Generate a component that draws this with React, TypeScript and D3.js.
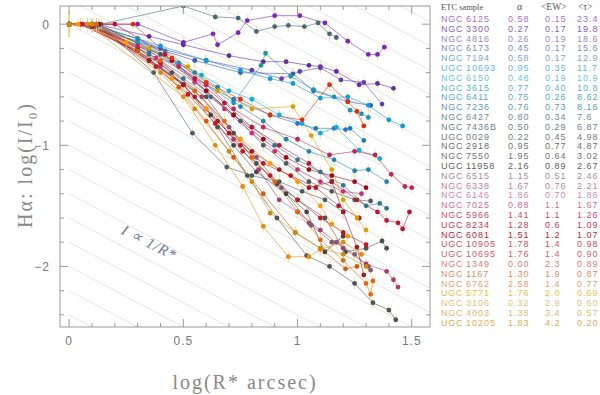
import React from 'react';
import * as d3 from 'd3';

// ETC sample: legend table
const galaxies = [
  'NGC 6125', 'NGC 3300', 'NGC 4816', 'NGC 6173', 'NGC 7194', 'UGC 10693', 'NGC 6150', 'NGC 3615',
  'NGC 6411', 'NGC 7236', 'NGC 6427', 'NGC 7436B', 'UGC 0029', 'NGC 2918', 'NGC 7550', 'UGC 11958',
  'NGC 6515', 'NGC 6338', 'NGC 6146', 'NGC 7025', 'NGC 5966', 'UGC 8234', 'NGC 6081', 'UGC 10905',
  'UGC 10695', 'NGC 1349', 'NGC 1167', 'NGC 6762', 'UGC 5771', 'NGC 3106', 'NGC 4003', 'UGC 10205',
];
const alphaVals = ['0.58', '0.27', '0.26', '0.45', '0.58', '0.95', '0.48', '0.77', '0.75', '0.76', '0.80', '0.50',
  '0.22', '0.95', '1.95', '2.16', '1.15', '1.67', '1.86', '0.88', '1.41', '1.28', '1.51', '1.78', '1.76', '0.00',
  '1.30', '2.58', '1.76', '0.32', '1.38', '1.83'];
const ewVals = ['0.15', '0.17', '0.19', '0.17', '0.17', '0.35', '0.19', '0.40', '0.26', '0.73', '0.34', '0.29',
  '0.45', '0.77', '0.64', '0.89', '0.51', '0.76', '0.70', '1.1', '1.1', '0.6', '1.2', '1.4', '1.4', '2.3',
  '1.9', '1.4', '2.0', '2.9', '3.4', '4.2'];
const tauVals = ['23.4', '19.8', '18.6', '15.6', '12.9', '11.7', '10.9', '10.8', '8.62', '8.16', '7.6', '6.87',
  '4.98', '4.87', '3.02', '2.67', '2.46', '2.21', '1.86', '1.67', '1.26', '1.09', '1.07', '0.98', '0.90', '0.89',
  '0.87', '0.77', '0.69', '0.60', '0.57', '0.20'];
const legendColors = [
  '#a66fd0', '#8a5cc0', '#9a88c8', '#7890c8', '#78a4d4', '#5fb8e0', '#6cc4e0', '#5ab4d0',
  '#58a8c8', '#5a9ab4', '#6a8c9a', '#6a7f8c', '#707a80', '#6c6e70', '#727272', '#5e5e5e',
  '#a88a9c', '#c47e9c', '#d487ac', '#d26e90', '#d44a6a', '#c83a50', '#c02838', '#d24a5a',
  '#d85c68', '#e27c6a', '#e48c5c', '#e49e6c', '#eec040', '#ecbc78', '#e4b478', '#dcac58',
];

// profiles: [log R*, log I/I0]
const profiles: [number, number][][] = [
  [[0, 0], [0.3, 0], [0.5, -0.15], [0.63, -0.08], [0.65, -0.17], [0.74, -0.07], [0.78, 0.03], [0.9, 0.07], [1.01, 0.07], [1.12, 0.01], [1.22, -0.14], [1.31, -0.25], [1.35, -0.25], [1.38, -0.19]],
  [[0, 0], [0.12, 0], [0.35, -0.1], [0.5, -0.17], [0.7, -0.26], [0.85, -0.31], [0.95, -0.31], [1.05, -0.34], [1.1, -0.35], [1.17, -0.39], [1.27, -0.5], [1.35, -0.49], [1.42, -0.53]],
  [[0, 0], [0.1, -0.02], [0.4, -0.2], [0.6, -0.3], [0.8, -0.38], [0.93, -0.45], [1.01, -0.39], [1.1, -0.36], [1.19, -0.46], [1.29, -0.48], [1.37, -0.66]],
  [[0, 0], [0.08, -0.01], [0.3, -0.15], [0.55, -0.3], [0.75, -0.4], [0.98, -0.41], [1.07, -0.55], [1.22, -0.64], [1.32, -0.67]],
  [[0, 0], [0.1, -0.02], [0.35, -0.22], [0.55, -0.45], [0.72, -0.62], [0.88, -0.75], [1.0, -0.82], [1.08, -0.86], [1.16, -0.86], [1.21, -0.87], [1.23, -0.86], [1.29, -0.96]],
  [[0, 0], [0.12, -0.01], [0.4, -0.18], [0.6, -0.3], [0.75, -0.38], [0.88, -0.45], [0.98, -0.49], [1.1, -0.61], [1.22, -0.6], [1.31, -0.67], [1.4, -0.79], [1.46, -0.84]],
  [[0, 0], [0.1, 0], [0.3, -0.12], [0.45, -0.3], [0.58, -0.42], [0.7, -0.55], [0.8, -0.62], [0.92, -0.75], [1.02, -0.82], [1.1, -0.9], [1.17, -0.85], [1.27, -1.04], [1.36, -1.11]],
  [[0, 0], [0.1, 0], [0.3, -0.15], [0.48, -0.32], [0.6, -0.5], [0.72, -0.65], [0.84, -0.34], [0.86, -0.24], [0.97, -0.43], [1.07, -0.54], [1.16, -0.6], [1.23, -0.71], [1.28, -0.74], [1.31, -0.77]],
  [[0, 0], [0.1, -0.01], [0.3, -0.12], [0.42, -0.22], [0.55, -0.4], [0.65, -0.52], [0.75, -0.68], [0.85, -0.8], [0.95, -0.95], [1.05, -1.05], [1.16, -1.12], [1.25, -1.21], [1.31, -1.2], [1.39, -1.3]],
  [[0, 0], [0.12, 0], [0.35, -0.25], [0.5, -0.45], [0.62, -0.6], [0.72, -0.75], [0.8, -0.85], [0.9, -1.0], [1.0, -1.12], [1.1, -1.22], [1.2, -1.33], [1.3, -1.5], [1.36, -1.48], [1.39, -1.52]],
  [[0, 0], [0.14, 0], [0.5, 0.15], [0.64, 0.06], [0.74, 0.05], [0.82, -0.06], [0.9, -0.02], [0.96, -0.01], [1.03, -0.02], [1.09, 0.01], [1.14, -0.08], [1.17, -0.11]],
  [[0, 0], [0.13, 0], [0.37, -0.4], [0.54, -0.9], [0.69, -1.18], [0.8, -1.25], [0.92, -1.3], [1.02, -1.38], [1.12, -1.45], [1.2, -1.55]],
  [[0, 0], [0.1, -0.02], [0.4, -0.25], [0.6, -0.55], [0.75, -0.8], [0.85, -1.0], [0.95, -1.15], [1.05, -1.3], [1.15, -1.38], [1.25, -1.45], [1.32, -1.46]],
  [[0, 0], [0.08, 0], [0.3, -0.2], [0.45, -0.4], [0.6, -0.6], [0.72, -0.9], [0.82, -1.15], [0.91, -1.32], [1.0, -1.45], [1.12, -1.6], [1.21, -1.88], [1.3, -1.85], [1.37, -1.79], [1.39, -1.85]],
  [[0, 0], [0.05, 0], [0.3, -0.22], [0.5, -0.5], [0.65, -0.85], [0.78, -1.25], [0.91, -1.6], [1.04, -1.91], [1.14, -2.0], [1.25, -2.14], [1.33, -2.3], [1.4, -2.36], [1.43, -2.44]],
  [[0, 0], [0.1, 0], [0.35, -0.3], [0.5, -0.5], [0.62, -0.75], [0.72, -1.0], [0.82, -1.22], [0.95, -1.4], [1.04, -1.55], [1.12, -1.88], [1.2, -1.75]],
  [[0, 0], [0.1, -0.02], [0.35, -0.3], [0.55, -0.55], [0.7, -0.85], [0.82, -1.1], [0.93, -1.35], [1.05, -1.64], [1.06, -1.66], [1.15, -1.8], [1.17, -1.8], [1.25, -1.9], [1.31, -2.0], [1.32, -2.03]],
  [[0, 0], [0.12, 0], [0.4, -0.35], [0.58, -0.6], [0.72, -0.95], [0.83, -1.2], [0.92, -1.45], [1.0, -1.55], [1.1, -1.7], [1.2, -1.85], [1.3, -1.98], [1.39, -2.04], [1.42, -2.11], [1.44, -2.17]],
  [[0, 0], [0.1, 0], [0.38, -0.28], [0.55, -0.48], [0.68, -0.7], [0.8, -0.9], [0.9, -1.05], [1.0, -1.2], [1.1, -1.3], [1.2, -1.38], [1.28, -1.4]],
  [[0, 0], [0.06, 0], [0.3, -0.18], [0.48, -0.35], [0.6, -0.5], [0.72, -0.7], [0.85, -0.85], [1.0, -0.95], [1.14, -1.08], [1.25, -1.05], [1.34, -1.08], [1.41, -1.24], [1.47, -1.34], [1.5, -1.35]],
  [[0, 0], [0.2, 0], [0.42, -0.25], [0.55, -0.45], [0.68, -0.65], [0.8, -0.85], [0.92, -1.0], [1.05, -1.15], [1.15, -1.3], [1.26, -1.45], [1.35, -1.55], [1.39, -1.62], [1.44, -1.64], [1.46, -1.69], [1.49, -1.55]],
  [[0, 0], [0.1, 0], [0.35, -0.3], [0.5, -0.5], [0.6, -0.7], [0.7, -0.9], [0.8, -1.05], [0.92, -1.2], [1.05, -1.35], [1.15, -1.3], [1.2, -1.55], [1.26, -1.84], [1.29, -2.07]],
  [[0, 0], [0.13, 0], [0.45, -0.3], [0.6, -0.55], [0.72, -0.75], [0.85, -0.95], [0.95, -1.1], [1.05, -1.2], [1.15, -1.25], [1.25, -1.3], [1.3, -1.35]],
  [[0, 0], [0.05, 0], [0.4, -0.32], [0.55, -0.6], [0.65, -0.8], [0.75, -1.0], [0.85, -1.15], [0.97, -1.25], [1.08, -1.35], [1.18, -1.5], [1.27, -1.6]],
  [[0, 0], [0.1, -0.02], [0.38, -0.35], [0.52, -0.58], [0.64, -0.82], [0.76, -1.05], [0.88, -1.25], [1.0, -1.45], [1.1, -1.6], [1.2, -1.72], [1.3, -1.82]],
  [[0, 0], [0.28, 0], [0.45, -0.28], [0.6, -0.48], [0.75, -0.62], [0.88, -0.75], [1.02, -0.79], [1.14, -0.5], [1.22, -0.64], [1.26, -0.72], [1.29, -0.84]],
  [[0, 0], [0.08, 0], [0.3, -0.22], [0.48, -0.52], [0.6, -0.8], [0.72, -1.1], [0.85, -1.4], [0.99, -1.72], [1.1, -1.85], [1.21, -2.02], [1.26, -2.0]],
  [[0, 0], [0.12, 0], [0.4, -0.3], [0.55, -0.55], [0.68, -0.8], [0.8, -1.1], [0.9, -1.3], [1.0, -1.55], [1.1, -1.78], [1.2, -1.95], [1.3, -2.14], [1.32, -2.23], [1.33, -2.12]],
  [[0, 0], [0.1, 0], [0.35, -0.2], [0.52, -0.35], [0.65, -0.55], [0.8, -0.7], [0.98, -0.68], [1.06, -0.92], [1.15, -1.2], [1.2, -1.45], [1.26, -1.6], [1.3, -1.7]],
  [[0, 0], [0.04, 0], [0.25, -0.15], [0.45, -0.45], [0.6, -0.7], [0.75, -0.95], [0.88, -1.15], [1.0, -1.3], [1.1, -1.5], [1.15, -1.65], [1.22, -1.75]],
  [[0, 0], [0.08, 0], [0.5, -0.6], [0.64, -1.0], [0.76, -1.34], [0.85, -1.67], [0.96, -1.92], [1.05, -1.92], [1.1, -1.86], [1.2, -1.8], [1.28, -1.9]],
  [[0, 0], [0.1, 0], [0.4, -0.4], [0.55, -0.7], [0.7, -1.05], [0.8, -1.3], [0.88, -1.56], [0.99, -1.72], [1.1, -1.85], [1.2, -1.9], [1.3, -2.0]],
];
const errBar = 0.05;

const xTicks = [0, 0.5, 1, 1.5];
const yTicks = [0, -1, -2];

const x = d3.scaleLinear().domain([-0.04, 1.58]).range([60, 430]);
const y = d3.scaleLinear().domain([0.15, -2.5]).range([6, 327]);

// reference lines I ~ 1/R*
const guideOffsets = d3.range(-2.4, 1.81, 0.2);

function markerColor(c: string) {
  const h = d3.hsl(c);
  h.s = Math.min(1, (isNaN(h.s) ? 0 : h.s) * 1.3);
  h.l = h.l * 0.72;
  return h.formatHex();
}

const App = () => {
  const [x0, x1] = x.domain();
  const [y0, y1] = y.domain();
  const line = d3.line<[number, number]>().x(d => x(d[0])).y(d => y(d[1]));
  const xMinor = d3.range(0, 1.55, 0.1);
  const yMinor = d3.range(0, -2.45, -0.2);
  const sans = 'Liberation Sans, Arial, sans-serif';
  const serif = 'Liberation Serif, Times New Roman, serif';
  const rowY = (i: number) => 22 + i * 9.8;

  return (
    <svg width={600} height={395} style={{ position: 'absolute', left: 0, top: 0, background: '#fff' }}>
      <defs>
        <clipPath id="plotclip">
          <rect x={x(x0)} y={y(y0)} width={x(x1) - x(x0)} height={y(y1) - y(y0)} />
        </clipPath>
      </defs>
      <g clipPath="url(#plotclip)">
        {guideOffsets.map((c, i) => (
          <line key={i} x1={x(0)} y1={y(c)} x2={x(x1)} y2={y(c - x1)} stroke="#e6e6e6" strokeWidth={1} />
        ))}
        {profiles.map((p, i) => (
          <path key={i} d={line(p) || ''} fill="none" stroke={markerColor(legendColors[i])} strokeWidth={0.7} opacity={0.85} />
        ))}
        {profiles.map((p, i) => p.map((d, j) => (
          <line key={`e${i}-${j}`} x1={x(d[0])} x2={x(d[0])} y1={y(d[1] + (j === 0 ? 0.1 : errBar))} y2={y(d[1] - (j === 0 ? 0.1 : errBar))}
            stroke="#e8d890" strokeWidth={0.8} opacity={0.8} />
        )))}
        {profiles.map((p, i) => p.map((d, j) => (
          <circle key={`m${i}-${j}`} cx={x(d[0])} cy={y(d[1])} r={2.4} fill={markerColor(legendColors[i])} />
        )))}
      </g>
      {/* frame */}
      <rect x={x(x0)} y={y(y0)} width={x(x1) - x(x0)} height={y(y1) - y(y0)} fill="none" stroke="#999" strokeWidth={1} />
      {xMinor.map((v, i) => {
        const major = xTicks.some(t => Math.abs(t - v) < 1e-6);
        const len = major ? 8 : 4;
        return (
          <g key={`xt${i}`} stroke="#999" strokeWidth={1}>
            <line x1={x(v)} x2={x(v)} y1={y(y1)} y2={y(y1) - len} />
            <line x1={x(v)} x2={x(v)} y1={y(y0)} y2={y(y0) + len} />
          </g>
        );
      })}
      {yMinor.map((v, i) => {
        const major = yTicks.some(t => Math.abs(t - v) < 1e-6);
        const len = major ? 8 : 4;
        return (
          <g key={`yt${i}`} stroke="#999" strokeWidth={1}>
            <line x1={x(x0)} x2={x(x0) + len} y1={y(v)} y2={y(v)} />
            <line x1={x(x1)} x2={x(x1) - len} y1={y(v)} y2={y(v)} />
          </g>
        );
      })}
      {xTicks.map(t => (
        <text key={`xl${t}`} x={x(t)} y={345} textAnchor="middle" fontFamily={sans} fontSize={12} letterSpacing={1} fill="#777">{t}</text>
      ))}
      {yTicks.map(t => (
        <text key={`yl${t}`} x={50} y={y(t) + 4.5} textAnchor="end" fontFamily={sans} fontSize={12} letterSpacing={1} fill="#777">
          {t < 0 ? `\u2212${-t}` : t}
        </text>
      ))}
      <text x={245} y={389} textAnchor="middle" fontFamily={serif} fontSize={20} letterSpacing={2} fill="#888">log(R* arcsec)</text>
      <text transform="translate(32,165) rotate(-90)" textAnchor="middle" fontFamily={serif} fontSize={20} letterSpacing={2} fill="#888">
        Hα: log(I/I<tspan fontSize={13} dy={5}>0</tspan><tspan dy={-5}>)</tspan>
      </text>
      <text transform="translate(147,247) rotate(27)" textAnchor="middle" fontFamily={serif} fontStyle="italic" fontSize={15} letterSpacing={1} fill="#6d7a92">
        I ∝ 1/R*
      </text>
      {/* legend table */}
      <text x={441} y={10} fontFamily={serif} fontSize={8.5} fill="#555">ETC sample</text>
      <text x={517} y={10} fontFamily={serif} fontSize={10} fill="#555">α</text>
      <text x={541} y={10} fontFamily={serif} fontSize={9.5} fill="#555">&lt;EW&gt;</text>
      <text x={578} y={10} fontFamily={serif} fontSize={9.5} fill="#555">&lt;τ&gt;</text>
      {galaxies.map((g, i) => {
        const [cat, num] = g.split(' ');
        const fs = { fontFamily: sans, fontSize: 9, fill: legendColors[i], letterSpacing: 0.8 };
        return (
          <g key={`lg${i}`}>
            <text x={441} y={rowY(i)} {...fs}>{cat}</text>
            <text x={466} y={rowY(i)} {...fs} letterSpacing={1}>{num}</text>
            <text x={508} y={rowY(i)} {...fs} letterSpacing={1}>{alphaVals[i]}</text>
            <text x={545} y={rowY(i)} {...fs} letterSpacing={1}>{ewVals[i]}</text>
            <text x={577} y={rowY(i)} {...fs} letterSpacing={1}>{tauVals[i]}</text>
          </g>
        );
      })}
    </svg>
  );
};

export default App;
